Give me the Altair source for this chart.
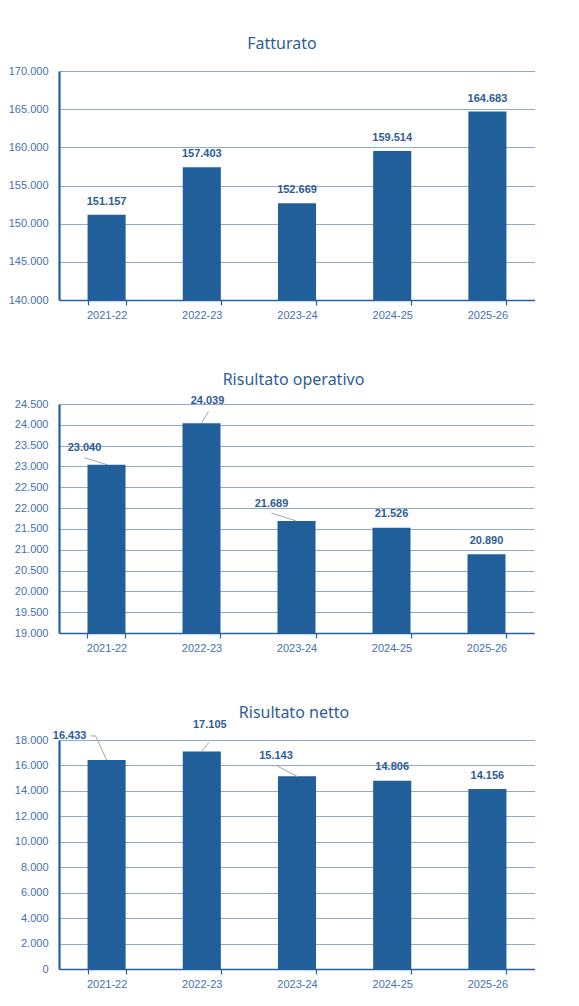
import altair as alt
import pandas as pd

anni = ["2021-22", "2022-23", "2023-24", "2024-25", "2025-26"]
fatturato = [151157, 157403, 152669, 159514, 164683]
risultato_operativo = [23040, 24039, 21689, 21526, 20890]
risultato_netto = [16433, 17105, 15143, 14806, 14156]

BAR = "#215F9A"
AXIS = "#2461A0"
GRID = "#8FAACB"
TICKLAB = "#4570B4"
LABEL = "#2E5C99"
TITLE = "#2F5E96"
LEADER = "#A6A6A6"

FMT = "replace(format(datum.value, ','), ',', '.')"


def panel(title, vals, ymin, ymax, step, width, title_dx, title_offset, label_pos, leaders):
    df = pd.DataFrame({"anno": anni, "valore": vals})
    df["base"] = ymin
    base = alt.Chart(df)
    xenc = alt.X(
        "anno:N", sort=anni, title=None,
        scale=alt.Scale(paddingInner=0.6, paddingOuter=0.3),
        axis=alt.Axis(
            labelAngle=0, labelFont="Liberation Sans", labelFontSize=11,
            labelColor=TICKLAB, domainColor=AXIS, domainWidth=1.5,
            tickColor=AXIS, tickSize=5, tickWidth=1.2, tickBand="extent",
            labelPadding=4, grid=False,
        ),
    )
    yscale = alt.Scale(domain=[ymin, ymax], zero=False, nice=False)
    yenc = alt.Y(
        "valore:Q", scale=yscale, title=None,
        axis=alt.Axis(
            values=list(range(ymin, ymax + 1, step)), labelExpr=FMT,
            labelFont="Liberation Sans", labelFontSize=11, labelColor=TICKLAB,
            labelOverlap=False, labelFlush=False,
            ticks=False, tickSize=0, labelPadding=11, domainColor=AXIS,
            domainWidth=2.2, gridColor=GRID, gridWidth=1.2, grid=True,
        ),
    )
    bars = base.mark_bar(color=BAR).encode(x=xenc, y=yenc, y2="base:Q")
    layers = [bars]
    for cat, (dx, dy) in label_pos.items():
        layers.append(
            base.transform_filter(alt.datum.anno == cat)
            .transform_calculate(testo="replace(format(datum.valore, ','), ',', '.')")
            .mark_text(font="Liberation Sans", fontSize=11, fontWeight="bold",
                       color=LABEL, baseline="middle", align="center", dx=dx, dy=dy)
            .encode(x=xenc, y=yenc, text="testo:N")
        )
    for cat, x1, y1, x2, y2 in leaders:
        layers.append(
            base.transform_filter(alt.datum.anno == cat)
            .mark_rule(color=LEADER, strokeWidth=1, xOffset=x1, yOffset=y1,
                       x2Offset=x2, y2Offset=y2)
            .encode(x=xenc, x2="anno:N", y=yenc, y2="valore:Q")
        )
    return alt.layer(*layers).properties(
        width=width, height=229,
        title=alt.TitleParams(
            title, anchor="middle", frame="group", dx=title_dx, offset=title_offset,
            font="Noto Sans", fontSize=16, fontWeight="normal", color=TITLE,
            baseline="alphabetic",
        ),
    )


default = {c: (0, -13) for c in anni}

p1 = panel("Fatturato", fatturato, 140000, 170000, 5000, 476, -15, 0, default, [])

pos2 = dict(default)
pos2.update({"2021-22": (-22, -17), "2022-23": (6, -22), "2023-24": (-25, -17),
             "2024-25": (0, -14)})
lead2 = [("2021-22", -22, -7, 1, 0), ("2022-23", 7, -12, 0, 0), ("2023-24", -25, -8, 0, 0)]
p2 = panel("Risultato operativo", risultato_operativo, 19000, 24500, 500, 475, -3, -6, pos2, lead2)

pos3 = dict(default)
pos3.update({"2021-22": (-37, -24), "2022-23": (8, -26), "2023-24": (-21, -20),
             "2024-25": (0, -14)})
lead3 = [("2021-22", -16, -24, -11, -24), ("2021-22", -11, -24, 0, 0),
         ("2022-23", 7, -9, 0, 0), ("2023-24", -21, -11, 0, 0)]
p3 = panel("Risultato netto", risultato_netto, 0, 18000, 2000, 476, -3, -15, pos3, lead3)

chart = alt.concat(p1, p2, p3, columns=1, spacing=52, align="none", center=True).resolve_scale(
    y="independent"
).properties(
    padding={"top": 28, "left": 0, "right": 0, "bottom": 0}
).configure_view(stroke=None)

chart.save("out.html", embed_options={"renderer": "svg", "actions": False})
